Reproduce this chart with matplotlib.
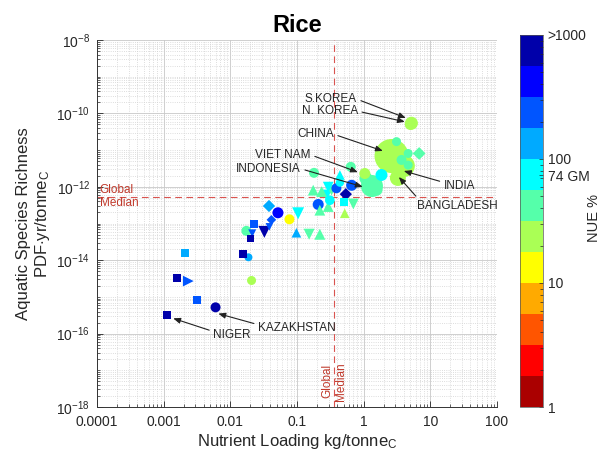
import numpy as np
import matplotlib
matplotlib.use('Agg')
import matplotlib.pyplot as plt
from matplotlib.colors import ListedColormap, LogNorm
from matplotlib.cm import ScalarMappable
from matplotlib.ticker import LogLocator, NullFormatter

plt.rcParams['font.family'] = ['Liberation Sans', 'DejaVu Sans']
plt.rcParams['mathtext.fontset'] = 'custom'
plt.rcParams['mathtext.rm'] = 'Liberation Sans'
plt.rcParams['mathtext.it'] = 'Liberation Sans:italic'
plt.rcParams['mathtext.bf'] = 'Liberation Sans:bold'

# ---------------- data ----------------
loading = [0.00112, 0.006, 0.0032, 0.00157, 0.00234, 0.00207, 0.0208, 0.0155, 0.0187, 0.0226,
           0.0174, 0.0213, 0.020, 0.0324, 0.038, 0.0518, 0.0413, 0.0385, 0.077, 0.104,
           0.098, 0.152, 0.22, 0.208, 0.52, 0.175, 0.234, 0.33, 0.294, 0.278,
           0.311, 0.22, 0.294, 0.39, 0.66, 0.54, 0.44, 0.64, 0.18, 0.70,
           0.50, 0.44, 1.04, 1.33, 1.08, 1.85, 1.58, 2.62, 4.0, 3.26,
           3.11, 4.65, 3.7, 4.65, 6.8, 5.2, 5.0]
richness = [3.2e-16, 5.2e-16, 8.3e-16, 3.2e-15, 2.7e-15, 1.6e-14, 2.8e-15, 1.5e-14, 1.2e-14, 9.5e-14,
            6.3e-14, 5.4e-14, 4.0e-14, 5.9e-14, 3.0e-13, 1.96e-13, 1.26e-13, 8.1e-14, 1.3e-13, 1.9e-13,
            5.6e-14, 5.1e-14, 5.1e-14, 3.3e-13, 1.9e-13, 8.1e-13, 7.4e-13, 8.1e-13, 9.8e-13, 6.0e-13,
            4.3e-13, 2.3e-13, 2.9e-13, 9.1e-13, 1.1e-12, 6.3e-13, 2.1e-12, 3.5e-12, 2.4e-12, 3.4e-13,
            3.9e-13, 1.3e-12, 2.3e-12, 1.05e-12, 1.7e-12, 2.1e-12, 8.1e-13, 6.9e-12, 3.7e-12, 1.74e-12,
            1.7e-11, 8.1e-12, 5.4e-12, 3.9e-12, 8.1e-12, 5.4e-11, 5.0e-11]
nue = [800, 800, 250, 800, 250, 140, 25, 800, 140, 250,
       45, 250, 800, 800, 140, 420, 250, 250, 14, 75,
       140, 45, 45, 250, 25, 45, 45, 45, 75, 75,
       75, 45, 45, 250, 250, 800, 75, 45, 45, 45,
       75, 75, 25, 45, 45, 75, 45, 25, 25, 25,
       45, 45, 45, 45, 45, 25, 25]
region = ['Africa', 'Asia', 'Africa', 'Africa', 'Other', 'Africa', 'Asia', 'Africa', 'Asia', 'Africa',
          'Asia', 'LatAm', 'Africa', 'LatAm', 'Europe', 'Asia', 'Europe', 'LatAm', 'Asia', 'LatAm',
          'NorthAm', 'LatAm', 'NorthAm', 'Asia', 'NorthAm', 'NorthAm', 'NorthAm', 'LatAm', 'LatAm', 'LatAm',
          'Asia', 'NorthAm', 'NorthAm', 'Asia', 'Asia', 'Europe', 'NorthAm', 'Asia', 'Asia', 'LatAm',
          'Africa', 'Asia', 'Asia', 'Asia', 'Asia', 'Asia', 'Asia', 'Asia', 'Asia', 'Asia',
          'Asia', 'Asia', 'Asia', 'Asia', 'Europe', 'Asia', 'Asia']
production = [5.5, 8.6, 5.5, 5.5, 10, 5.5, 7, 5.5, 5.5, 5.5,
              8.6, 5.5, 4, 12.4, 6.5, 10.5, 4, 5, 8.6, 12.4,
              8, 10.5, 10.5, 10.5, 8, 10, 10, 10, 10, 10,
              8, 10, 10, 8.6, 10.5, 6.5, 8, 8.6, 8.6, 10,
              5.5, 6, 10.5, 42, 14.6, 12.4, 10.5, 100, 42, 22,
              7, 7, 8.6, 7, 7, 14.6, 10.5]

labels = ['S.KOREA', 'N. KOREA', 'CHINA', 'VIET NAM', 'INDONESIA', 'INDIA', 'BANGLADESH', 'KAZAKHSTAN', 'NIGER']
label_tip_x = [4.3, 4.15, 1.94, 0.82, 0.97, 4.0, 3.37, 0.0066, 0.00139]
label_tip_y = [7.5e-11, 5.9e-11, 9.5e-12, 2.5e-12, 1.0e-12, 2.7e-12, 1.85e-12, 3.5e-16, 2.6e-16]
label_txt_x = [0.79, 0.82, 0.357, 0.161, 0.114, 15.9, 6.28, 0.026, 0.00555]
label_txt_y = [2.45e-10, 1.15e-10, 2.7e-11, 7.4e-12, 3.1e-12, 1.05e-12, 3.0e-13, 1.4e-16, 9.1e-17]

median_loading = 0.36
median_richness = 5.4e-13

x_ticks = [1e-4, 1e-3, 1e-2, 1e-1, 1, 10, 100]
x_tick_labels = ['0.0001', '0.001', '0.01', '0.1', '1', '10', '100']
y_ticks = [1e-18, 1e-16, 1e-14, 1e-12, 1e-10, 1e-8]
cb_ticks = [1, 10, 74, 100, 1000]
cb_tick_labels = ['1', '10', '74 GM', '100', '>1000']

# MATLAB jet(12), low NUE (red) -> high NUE (navy)
jet12 = [(0.6667, 0, 0), (1, 0, 0), (1, 0.3333, 0), (1, 0.6667, 0), (1, 1, 0),
         (0.6667, 1, 0.3333), (0.3333, 1, 0.6667), (0, 1, 1), (0, 0.6667, 1),
         (0, 0.3333, 1), (0, 0, 1), (0, 0, 0.6667)]
cmap = ListedColormap(jet12)
norm = LogNorm(vmin=1, vmax=1000)
marker_of = {'Asia': 'o', 'Africa': 's', 'LatAm': 'v', 'Europe': 'D', 'NorthAm': '^', 'Other': '>'}

# ---------------- figure ----------------
W, H = 610, 461
fig = plt.figure(figsize=(W / 100, H / 100), dpi=100)
ax = fig.add_axes([97 / W, 54 / H, 400 / W, 367 / H])
cax = fig.add_axes([520 / W, 54 / H, 23 / W, 372 / H])

txtc = '#262626'
ax.set_xscale('log')
ax.set_yscale('log')
ax.set_xlim(1e-4, 100)
ax.set_ylim(1e-18, 1e-8)

order = np.argsort(production)[::-1]
for i in order:
    ax.scatter([loading[i]], [richness[i]], s=6 * production[i], c=[nue[i]], cmap=cmap, norm=norm,
               marker=marker_of[region[i]], edgecolors='none', zorder=3)

# median lines
mc = '#d9534f'
ax.axvline(median_loading, color=mc, ls=(0, (6, 4)), lw=0.8, zorder=2)
ax.axhline(median_richness, color=mc, ls=(0, (6, 4)), lw=0.8, zorder=2)
ax.text(1.1e-4, median_richness, 'Global\nMedian', color='#c0392b', fontsize=8.5, ha='left', va='center',
        linespacing=1.1, zorder=4)
ax.text(median_loading, 1.5e-18, 'Global\nMedian', color='#c0392b', fontsize=8.5, ha='center', va='bottom',
        rotation=90, linespacing=1.1, zorder=4)

# annotations
relpos = [(1, 0.5), (1, 0.5), (1, 0.5), (1, 0.5), (1, 0.5), (0, 0.8), (0.03, 1.0), (0, 0.8), (0, 0.8)]
for k, lab in enumerate(labels):
    ha = 'right' if relpos[k][0] == 1 else 'left'
    ax.annotate(lab, xy=(label_tip_x[k], label_tip_y[k]), xytext=(label_txt_x[k], label_txt_y[k]),
                ha=ha, va='center', fontsize=8.5, color=txtc, zorder=5,
                arrowprops=dict(arrowstyle='-|>,head_length=0.5,head_width=0.2', color='#222222', lw=0.8,
                                relpos=relpos[k], shrinkA=1, shrinkB=0))

# ticks & grid
ax.set_xticks(x_ticks)
ax.set_xticklabels(x_tick_labels)
ax.set_yticks(y_ticks)
ax.xaxis.set_minor_locator(LogLocator(base=10, subs=np.arange(1, 10), numticks=100))
ax.yaxis.set_minor_locator(LogLocator(base=10, subs=np.arange(1, 10), numticks=100))
ax.xaxis.set_minor_formatter(NullFormatter())
ax.yaxis.set_minor_formatter(NullFormatter())
ax.grid(which='major', color='#c8c8c8', lw=0.6, zorder=0)
ax.grid(which='minor', color='#d2d2d2', ls=':', lw=0.6, zorder=0)
ax.set_axisbelow(True)
ax.tick_params(which='both', direction='in', top=False, right=False, colors=txtc, labelsize=10)
ax.tick_params(which='major', length=4, width=0.6)
ax.tick_params(which='minor', length=2, width=0.5)
ax.tick_params(axis='x', which='major', pad=6)
ax.tick_params(axis='y', which='major', pad=5)
for sp in ['top', 'right']:
    ax.spines[sp].set_visible(False)
for sp in ['left', 'bottom']:
    ax.spines[sp].set_color('#333333')
    ax.spines[sp].set_linewidth(0.7)

ax.set_xlabel('Nutrient Loading kg/tonne$_\\mathrm{C}$', fontsize=12, color=txtc, labelpad=2)
ax.set_ylabel('Aquatic Species Richness\nPDF$\\cdot$yr/tonne$_\\mathrm{C}$', fontsize=12, color=txtc,
              labelpad=3, linespacing=1.15)
ax.set_title('Rice', fontsize=17, fontweight='bold', color='black', pad=6)

# colorbar
sm = ScalarMappable(norm=norm, cmap=cmap)
cb = fig.colorbar(sm, cax=cax)
cb.set_ticks(cb_ticks)
cb.set_ticklabels(cb_tick_labels)
cax.yaxis.set_minor_locator(LogLocator(base=10, subs=np.arange(2, 10), numticks=100))
cax.yaxis.set_minor_formatter(NullFormatter())
cax.tick_params(which='both', direction='in', colors=txtc, labelsize=10, width=0.5)
cax.tick_params(which='major', length=3)
cax.tick_params(which='minor', length=2)
cb.outline.set_linewidth(0.5)
cb.outline.set_edgecolor('#555555')
fig.text(594 / W, (H - 218) / H, 'NUE %', rotation=90, ha='center', va='center', fontsize=10.5, color=txtc)

fig.savefig('out.png', dpi=100)
